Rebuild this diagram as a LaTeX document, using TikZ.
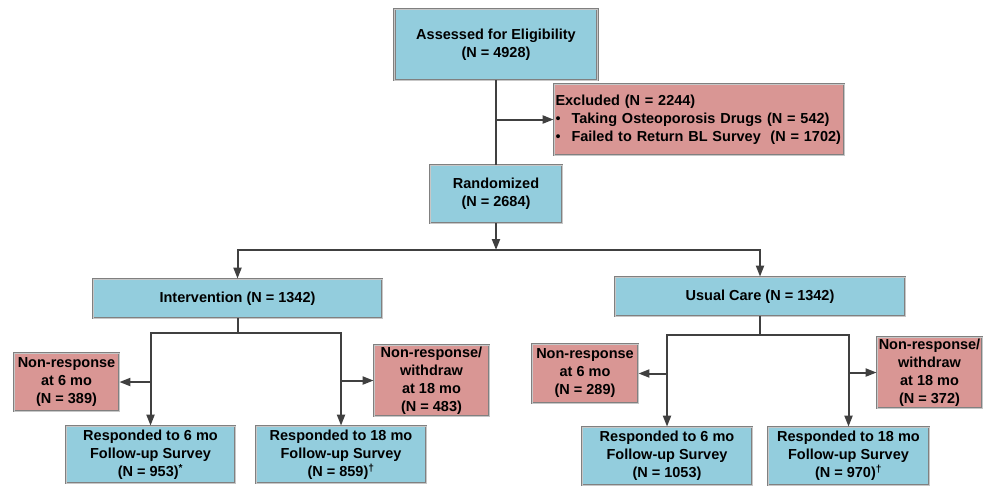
\documentclass[tikz,border=0pt]{standalone}
\usepackage{fontspec}
\setmainfont{Liberation Sans}
\usetikzlibrary{arrows.meta}
\definecolor{boxblue}{RGB}{147,205,221}
\definecolor{boxred}{RGB}{217,150,148}
\definecolor{linegray}{RGB}{64,64,64}

\begin{document}
\begin{tikzpicture}[x=1pt, y=-1pt,
  font=\bfseries\fontsize{14.5}{18}\selectfont,
  basebox/.style={draw=black!50, double=black!22, double distance=0.8pt, line width=0.8pt,
    align=center, inner sep=1pt},
  bluebox/.style={basebox, fill=boxblue},
  redbox/.style={basebox, fill=boxred},
  ln/.style={draw=linegray, line width=2pt},
  arr/.style={ln, -{Triangle[length=11pt, width=8pt]}}]
\useasboundingbox (0,0) rectangle (984,487);
% ---------- enrolment ----------
\node[bluebox, minimum width=203, minimum height=71] (elig) at (496,44.5)
  {Assessed for Eligibility\\(N = 4928)};
\node[redbox, minimum width=290, minimum height=71, text width=287pt, align=left] (excl) at (699,119.5)
  {Excluded (N = 2244)\\
   \mbox{\makebox[16pt][l]{\mdseries\textbullet}Taking Osteoporosis Drugs (N = 542)}\\
   \mbox{\makebox[16pt][l]{\mdseries\textbullet}Failed to Return BL Survey\ \ (N = 1702)}};
\node[bluebox, minimum width=132, minimum height=58] (rand) at (496,194)
  {Randomized\\(N = 2684)};
\draw[ln] (elig.south) -- (rand.north);
\draw[arr] (elig.south |- excl.west) -- (excl.west);
% ---------- allocation ----------
\node[bluebox, minimum width=289, minimum height=39] (intv) at (237.5,298.5)
  {Intervention (N = 1342)};
\node[bluebox, minimum width=290, minimum height=39] (usual) at (760,296.5)
  {Usual Care (N = 1342)};
\coordinate (split) at (496,250);
\draw[arr] (rand.south) -- (split);
\draw[arr] (split) -| (intv.north);
\draw[arr] (split) -| (usual.north);
% ---------- intervention arm ----------
\node[redbox, minimum width=105, minimum height=58] (inr6) at (66.5,382)
  {Non-response\\at 6 mo\\(N = 389)};
\node[redbox, minimum width=115, minimum height=71] (inr18) at (431.5,380.5)
  {Non-response/\\withdraw\\at 18 mo\\(N = 483)};
\node[bluebox, minimum width=169, minimum height=57] (ir6) at (150.5,454.5)
  {Responded to 6 mo\\Follow-up Survey\\(N = 953)\textsuperscript{*}};
\node[bluebox, minimum width=170, minimum height=57] (ir18) at (341,454.5)
  {Responded to 18 mo\\Follow-up Survey\\(N = 859)\textsuperscript{\textdagger}};
\coordinate (ibr) at (237.5,333);
\draw[ln] (intv.south) -- (ibr);
\draw[arr] (ibr) -| (ir6.north);
\draw[arr] (ibr) -| (ir18.north);
\draw[arr] (ir6.north |- inr6.east) -- (inr6.east);
\draw[arr] (ir18.north |- inr18.west) -- (inr18.west);
% ---------- usual care arm ----------
\node[redbox, minimum width=106, minimum height=59] (unr6) at (585,373.5)
  {Non-response\\at 6 mo\\(N = 289)};
\node[redbox, minimum width=105, minimum height=71] (unr18) at (929.5,372.5)
  {Non-response/\\withdraw\\at 18 mo\\(N = 372)};
\node[bluebox, minimum width=170, minimum height=58] (ur6) at (667,456)
  {Responded to 6 mo\\Follow-up Survey\\(N = 1053)};
\node[bluebox, minimum width=161, minimum height=58] (ur18) at (848.5,456)
  {Responded to 18 mo\\Follow-up Survey\\(N = 970)\textsuperscript{\textdagger}};
\coordinate (ubr) at (760,335);
\draw[ln] (usual.south) -- (ubr);
\draw[arr] (ubr) -| (ur6.north);
\draw[arr] (ubr) -| (ur18.north);
\draw[arr] (ur6.north |- unr6.east) -- (unr6.east);
\draw[arr] (ur18.north |- unr18.west) -- (unr18.west);
\end{tikzpicture}
\end{document}
